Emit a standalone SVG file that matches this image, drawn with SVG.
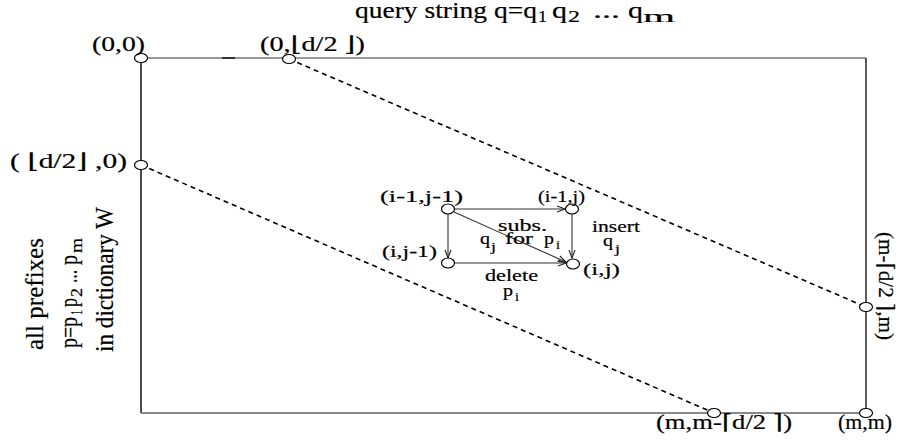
<svg xmlns="http://www.w3.org/2000/svg" width="910" height="448" viewBox="0 0 910 448">
  <style>
    text { font-family: "Liberation Serif", "DejaVu Serif", serif; fill: #000; stroke: #000; stroke-width: 0.2px; }
    .lbl { font-size: 21px; }
    .in { font-size: 17px; }
    .sub { font-size: 12px; }
    .big { font-size: 24px; }
    .bigsub { font-size: 16px; }
    .vert { font-size: 25px; }
    .vsub { font-size: 17px; }
    .pt { fill: #fff; stroke: #000; stroke-width: 1.2; }
    .diag { stroke: #000; stroke-width: 1.6; stroke-dasharray: 5 4; fill: none; }
    .edge { stroke: #333; stroke-width: 1.1; fill: none; marker-end: url(#arr); }
  </style>
  <defs>
    <marker id="arr" markerWidth="10" markerHeight="8" refX="9" refY="4" orient="auto" markerUnits="userSpaceOnUse">
      <path d="M1,1 L9,4 L1,7" fill="none" stroke="#222" stroke-width="1.1"/>
    </marker>
  </defs>

  <!-- title -->
  <g id="title">
    <text class="big" x="355" y="18" textLength="182" lengthAdjust="spacingAndGlyphs">query string q=q</text>
    <text class="bigsub" x="538" y="22" textLength="9" lengthAdjust="spacingAndGlyphs">1</text>
    <text class="big" x="552" y="18" textLength="15" lengthAdjust="spacingAndGlyphs">q</text>
    <text class="bigsub" x="568" y="22" textLength="12" lengthAdjust="spacingAndGlyphs">2</text>
    <text class="big" x="593" y="18" textLength="27" lengthAdjust="spacingAndGlyphs">...</text>
    <text class="big" x="628" y="18" textLength="15" lengthAdjust="spacingAndGlyphs">q</text>
    <text class="bigsub" x="643" y="22" textLength="32" lengthAdjust="spacingAndGlyphs">m</text>
  </g>

  <!-- dynamic programming matrix frame -->
  <g id="matrix">
    <line x1="141" y1="58" x2="866" y2="58" stroke="#777" stroke-width="1.6"/>
    <line x1="222" y1="58" x2="235" y2="58" stroke="#333" stroke-width="2"/>
    <line x1="141" y1="58" x2="141" y2="413" stroke="#000" stroke-width="1.4"/>
    <line x1="866" y1="58" x2="866" y2="413" stroke="#333" stroke-width="1.6"/>
    <line x1="141" y1="413" x2="866" y2="413" stroke="#888" stroke-width="1.8"/>
  </g>

  <!-- band limits and recurrence moves -->
  <g id="connectors">
    <line class="diag" x1="289" y1="59" x2="866" y2="307"/>
    <line class="diag" x1="141" y1="165" x2="714" y2="413"/>
    <line class="edge" x1="454" y1="209" x2="565" y2="209"/>
    <line class="edge" x1="448" y1="214" x2="448" y2="258"/>
    <line class="edge" x1="572" y1="214" x2="572" y2="258"/>
    <line class="edge" x1="455" y1="263" x2="566" y2="263"/>
    <line class="edge" x1="454" y1="212" x2="566" y2="262"/>
  </g>

  <!-- corner cells -->
  <g id="n00">
    <ellipse class="pt" cx="141" cy="58" rx="6.5" ry="4.5"/>
    <text class="lbl" x="92" y="51" textLength="53" lengthAdjust="spacingAndGlyphs">(0,0)</text>
  </g>
  <g id="n0d">
    <ellipse class="pt" cx="289" cy="59" rx="6.5" ry="4.5"/>
    <text class="lbl" x="260" y="51" textLength="105" lengthAdjust="spacingAndGlyphs">(0,⌊d/2 ⌋)</text>
  </g>
  <g id="nd0">
    <ellipse class="pt" cx="141" cy="165" rx="6.5" ry="4.5"/>
    <text class="lbl" x="10" y="168" textLength="117" lengthAdjust="spacingAndGlyphs">( ⌊d/2⌋ ,0)</text>
  </g>
  <g id="nmd">
    <ellipse class="pt" cx="866" cy="307" rx="6.5" ry="4.5"/>
    <text class="lbl" transform="translate(879,232) rotate(90)" x="0" y="0" textLength="108" lengthAdjust="spacingAndGlyphs">(m-⌈d/2 ⌉,m)</text>
  </g>
  <g id="nmm-d">
    <ellipse class="pt" cx="714" cy="413" rx="6.5" ry="4.5"/>
    <text class="lbl" x="656" y="429" textLength="136" lengthAdjust="spacingAndGlyphs">(m,m-⌈d/2 ⌉)</text>
  </g>
  <g id="nmm">
    <ellipse class="pt" cx="866" cy="413" rx="6.5" ry="4.5"/>
    <text class="lbl" x="838" y="429" textLength="54" lengthAdjust="spacingAndGlyphs">(m,m)</text>
  </g>

  <!-- recurrence cells -->
  <g id="c11">
    <ellipse class="pt" cx="448" cy="209" rx="6.5" ry="5"/>
    <text class="in" x="380" y="202" textLength="83" lengthAdjust="spacingAndGlyphs">(i-1,j-1)</text>
  </g>
  <g id="c10">
    <ellipse class="pt" cx="572" cy="209" rx="6.5" ry="5"/>
    <text class="in" x="538" y="202" textLength="47" lengthAdjust="spacingAndGlyphs">(i-1,j)</text>
  </g>
  <g id="c01">
    <ellipse class="pt" cx="448" cy="263" rx="6.5" ry="5"/>
    <text class="in" x="382" y="257" textLength="55" lengthAdjust="spacingAndGlyphs">(i,j-1)</text>
  </g>
  <g id="c00">
    <ellipse class="pt" cx="573" cy="264" rx="6.5" ry="5"/>
    <text class="in" x="583" y="275" textLength="37" lengthAdjust="spacingAndGlyphs">(i,j)</text>
  </g>

  <!-- operation labels -->
  <g id="ops">
    <text class="in" x="498" y="231" textLength="49" lengthAdjust="spacingAndGlyphs">subs.</text>
    <text class="in" x="480" y="244" textLength="10" lengthAdjust="spacingAndGlyphs">q</text>
    <text class="sub" x="491" y="251" textLength="5" lengthAdjust="spacingAndGlyphs">j</text>
    <text class="in" x="505" y="244" textLength="28" lengthAdjust="spacingAndGlyphs">for</text>
    <text class="in" x="544" y="244" textLength="10" lengthAdjust="spacingAndGlyphs">p</text>
    <text class="sub" x="556" y="249" textLength="4" lengthAdjust="spacingAndGlyphs">i</text>
    <text class="in" x="592" y="232" textLength="48" lengthAdjust="spacingAndGlyphs">insert</text>
    <text class="in" x="603" y="246" textLength="10" lengthAdjust="spacingAndGlyphs">q</text>
    <text class="sub" x="615" y="253" textLength="5" lengthAdjust="spacingAndGlyphs">j</text>
    <text class="in" x="485" y="281" textLength="53" lengthAdjust="spacingAndGlyphs">delete</text>
    <text class="in" x="503" y="296" textLength="10" lengthAdjust="spacingAndGlyphs">p</text>
    <text class="sub" x="515" y="301" textLength="4" lengthAdjust="spacingAndGlyphs">i</text>
  </g>

  <!-- row axis caption -->
  <g id="rows">
    <text class="vert" transform="translate(43,350) rotate(-90)" x="0" y="0" textLength="112" lengthAdjust="spacingAndGlyphs">all prefixes</text>
    <g transform="translate(77,348) rotate(-90)">
      <text class="vert" x="0" y="0" textLength="31" lengthAdjust="spacingAndGlyphs">p=p</text>
      <text class="vsub" x="33" y="5" textLength="5" lengthAdjust="spacingAndGlyphs">1</text>
      <text class="vert" x="41" y="0" textLength="9" lengthAdjust="spacingAndGlyphs">p</text>
      <text class="vsub" x="51" y="5" textLength="9" lengthAdjust="spacingAndGlyphs">2</text>
      <text class="vert" x="65" y="0" textLength="13" lengthAdjust="spacingAndGlyphs">...</text>
      <text class="vert" x="83" y="0" textLength="10" lengthAdjust="spacingAndGlyphs">p</text>
      <text class="vsub" x="95" y="5" textLength="15" lengthAdjust="spacingAndGlyphs">m</text>
    </g>
    <text class="vert" transform="translate(113,352) rotate(-90)" x="0" y="0" textLength="145" lengthAdjust="spacingAndGlyphs">in dictionary W</text>
  </g>
</svg>
